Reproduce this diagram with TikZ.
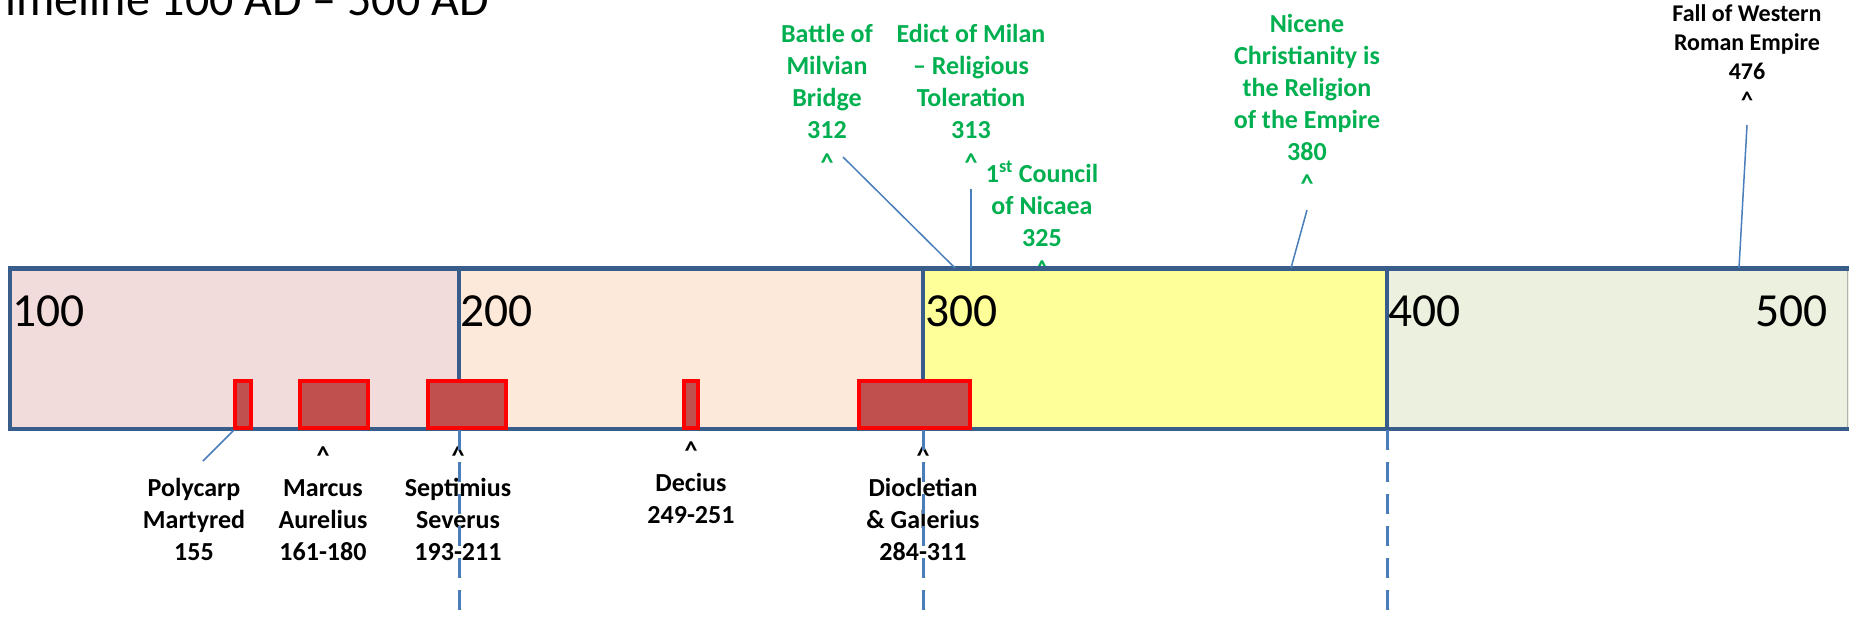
\documentclass[tikz,border=0pt]{standalone}
\usepackage{fontspec}
\setmainfont{Carlito}
\definecolor{bandblue}{HTML}{385D8A}
\definecolor{linkblue}{HTML}{4A7EBB}
\definecolor{boxred}{HTML}{C0504D}
\definecolor{fillA}{HTML}{F2DCDB}
\definecolor{fillB}{HTML}{FDE9D9}
\definecolor{fillC}{HTML}{FFFF99}
\definecolor{fillD}{HTML}{EBF1DE}
\definecolor{greentext}{HTML}{00B050}
\newcommand\biglab[1]{\parbox[t]{220pt}{\fontsize{26}{32}\selectfont\bfseries\centering #1}}
\newcommand\smalllab[1]{\parbox[t]{220pt}{\fontsize{24}{29}\selectfont\bfseries\centering #1}}
\tikzset{
  bandseg/.style={draw=bandblue, line width=4.5pt},
  redbox/.style={draw=red, fill=boxred, line width=4pt},
  conn/.style={draw=linkblue, line width=1.5pt},
  eraline/.style={draw=linkblue, line width=3pt, dash pattern=on 20pt off 12pt},
  lbl/.style={inner sep=0pt, anchor=base},
  greenlbl/.style={lbl, text=greentext},
  blacklbl/.style={lbl, text=black},
  yearlbl/.style={inner sep=0pt, anchor=base west, font=\fontsize{47.5}{57}\selectfont},
}
\begin{document}
\begin{tikzpicture}[x=1pt,y=-1pt]
\useasboundingbox (0,0) rectangle (1849,618);
\clip (0,0) rectangle (1849,618);
% title
\node[inner sep=0pt, anchor=base west, font=\fontsize{48}{58}\selectfont] (title) at (-18,16) {Timeline 100 AD – 500 AD};
% labels above
\node[greenlbl] (milvian) at (827,43) {\biglab{Battle of\\Milvian\\Bridge\\312\\\textasciicircum}};
\node[greenlbl] (edict) at (971,43) {\biglab{Edict of Milan\\– Religious\\Toleration\\313\\\textasciicircum}};
\node[greenlbl] (council) at (1042,182) {\biglab{1\textsuperscript{st} Council\\of Nicaea\\325\\\textasciicircum}};
\node[greenlbl] (nicene) at (1307,33) {\biglab{Nicene\\Christianity is\\the Religion\\of the Empire\\380\\\textasciicircum}};
\node[blacklbl] (fall) at (1747,22) {\smalllab{Fall of Western\\Roman Empire\\476\\\textasciicircum}};
% band
\draw[bandseg, fill=fillA] (10,268.7) rectangle (459,428.8);
\draw[bandseg, fill=fillB] (459,268.7) rectangle (923,428.8);
\draw[bandseg, fill=fillC] (923,268.7) rectangle (1387,428.8);
\draw[bandseg, fill=fillD] (1387,268.7) rectangle (1875,428.8);
\draw[draw=gray!60, line width=1pt] (1847.5,271) -- (1847.5,426.5);
\node[yearlbl] (y100) at (12,326) {100};
\node[yearlbl] (y200) at (460,326) {200};
\node[yearlbl] (y300) at (925,326) {300};
\node[yearlbl] (y400) at (1388,326) {400};
\node[yearlbl] (y500) at (1755,326) {500};
% persecutions
\draw[redbox] (235,381) rectangle (251,428);
\draw[redbox] (300,381) rectangle (368,428);
\draw[redbox] (428,381) rectangle (506,428);
\draw[redbox] (684,381) rectangle (698,428);
\draw[redbox] (859,381) rectangle (970,428);
% labels below
\node[blacklbl] (polycarp) at (194,496) {\biglab{Polycarp\\Martyred\\155}};
\node[blacklbl] (marcus) at (323,464) {\biglab{\textasciicircum\\Marcus\\Aurelius\\161-180}};
\node[blacklbl] (septimius) at (458,464) {\biglab{\textasciicircum\\Septimius\\Severus\\193-211}};
\node[blacklbl] (decius) at (691,459) {\biglab{\textasciicircum\\Decius\\249-251}};
\node[blacklbl] (diocletian) at (923,464) {\biglab{\textasciicircum\\Diocletian\\\& Galerius\\284-311}};
% connectors
\coordinate (polyA) at (234,430);
\coordinate (polyB) at (203,461);
\coordinate (milA) at (843,157);
\coordinate (milB) at (955,268);
\coordinate (edA) at (971,189);
\coordinate (edB) at (971,268);
\coordinate (niA) at (1307,210);
\coordinate (niB) at (1291,268);
\coordinate (faA) at (1747,125);
\coordinate (faB) at (1739,268);
\draw[conn] (polyA) -- (polyB);
\draw[conn] (milA) -- (milB);
\draw[conn] (edA) -- (edB);
\draw[conn] (niA) -- (niB);
\draw[conn] (faA) -- (faB);
% era lines
\coordinate (e2a) at (459,430);
\coordinate (e2b) at (459,620);
\coordinate (e3a) at (923,430);
\coordinate (e3b) at (923,620);
\coordinate (e4a) at (1387,430);
\coordinate (e4b) at (1387,620);
\draw[eraline] (e2a) -- (e2b);
\draw[eraline] (e3a) -- (e3b);
\draw[eraline] (e4a) -- (e4b);
\end{tikzpicture}
\end{document}
